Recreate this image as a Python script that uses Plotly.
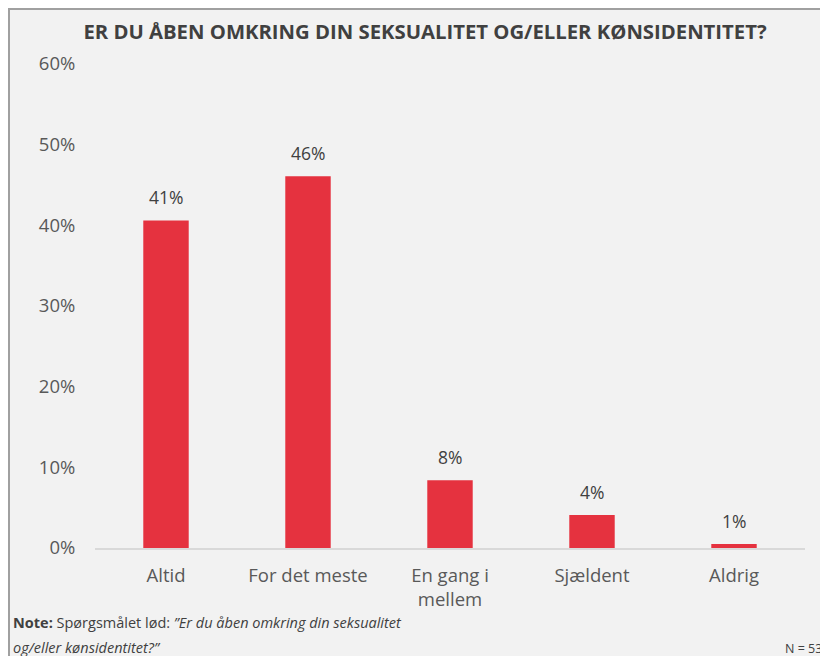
import plotly.graph_objects as go

categories = ["Altid", "For det meste", "En gang i<br>mellem", "Sjældent", "Aldrig"]
values = [0.406, 0.461, 0.084, 0.041, 0.005]
labels = ["41%", "46%", "8%", "4%", "1%"]
yticks = [0, 0.1, 0.2, 0.3, 0.4, 0.5, 0.6]
ytick_text = ["0%", "10%", "20%", "30%", "40%", "50%", "60%"]

FONT = "Open Sans, sans-serif"
L, R, T, B = 87, 31, 56, 116
PW = 828 - L - R
PH = 656 - T - B

fig = go.Figure()
fig.add_trace(go.Bar(
    x=categories, y=values,
    marker=dict(color="#e5323f", line=dict(width=0)),
    width=0.32, hoverinfo="skip",
))
for c, v, t in zip(categories, values, labels):
    fig.add_annotation(x=c, y=v, text=t, showarrow=False, yanchor="middle", yshift=23,
                       font=dict(size=17.5, color="#404040", family=FONT))

fig.update_layout(
    width=828, height=656,
    paper_bgcolor="#f2f2f2", plot_bgcolor="#f2f2f2",
    margin=dict(l=L, r=R, t=T, b=B),
    showlegend=False,
    font=dict(family=FONT, color="#595959", size=18.5),
    title=dict(text="<b>ER DU ÅBEN OMKRING DIN SEKSUALITET OG/ELLER KØNSIDENTITET?</b>",
               x=417 / 828, xanchor="center", y=1 - 24 / 656, yanchor="middle",
               font=dict(size=20.3, color="#404040", family=FONT)),
    xaxis=dict(showline=True, linecolor="#d9d9d9", linewidth=1.5, ticks="outside", ticklen=10,
               tickcolor="rgba(0,0,0,0)",
               tickfont=dict(size=18.5, color="#595959"), showgrid=False),
    yaxis=dict(range=[0, 0.6], tickvals=yticks, ticktext=ytick_text, showgrid=False,
               zeroline=False, showline=False, ticks="outside", ticklen=15,
               tickcolor="rgba(0,0,0,0)",
               tickfont=dict(size=18.5, color="#595959")),
)

# frame border (left and top)
x_left = -L / PW
y_top = 1 + T / PH
fig.add_shape(type="line", xref="paper", yref="paper", x0=x_left + 1 / PW, x1=x_left + 1 / PW,
              y0=-B / PH, y1=y_top, line=dict(color="#a0a0a0", width=2))
fig.add_shape(type="line", xref="paper", yref="paper", x0=x_left, x1=1 + R / PW,
              y0=y_top - 1 / PH, y1=y_top - 1 / PH, line=dict(color="#a0a0a0", width=2))

fig.add_annotation(xref="paper", yref="paper", x=x_left + 3 / PW, y=-74 / PH, xanchor="left", yanchor="middle",
                   showarrow=False, align="left",
                   text="<b>Note:</b> Spørgsmålet lød: <i>\u201dEr du åben omkring din seksualitet</i>",
                   font=dict(size=14.5, color="#404040", family=FONT))
fig.add_annotation(xref="paper", yref="paper", x=x_left + 3 / PW, y=-99 / PH, xanchor="left", yanchor="middle",
                   showarrow=False, align="left",
                   text="<i>og/eller kønsidentitet?\u201d</i>",
                   font=dict(size=14.5, color="#404040", family=FONT))
fig.add_annotation(xref="paper", yref="paper", x=(775 - L) / PW, y=-100 / PH, xanchor="left", yanchor="middle",
                   showarrow=False, align="left", text="N = 531",
                   font=dict(size=12.5, color="#404040", family=FONT))

fig.write_html("out.html")
